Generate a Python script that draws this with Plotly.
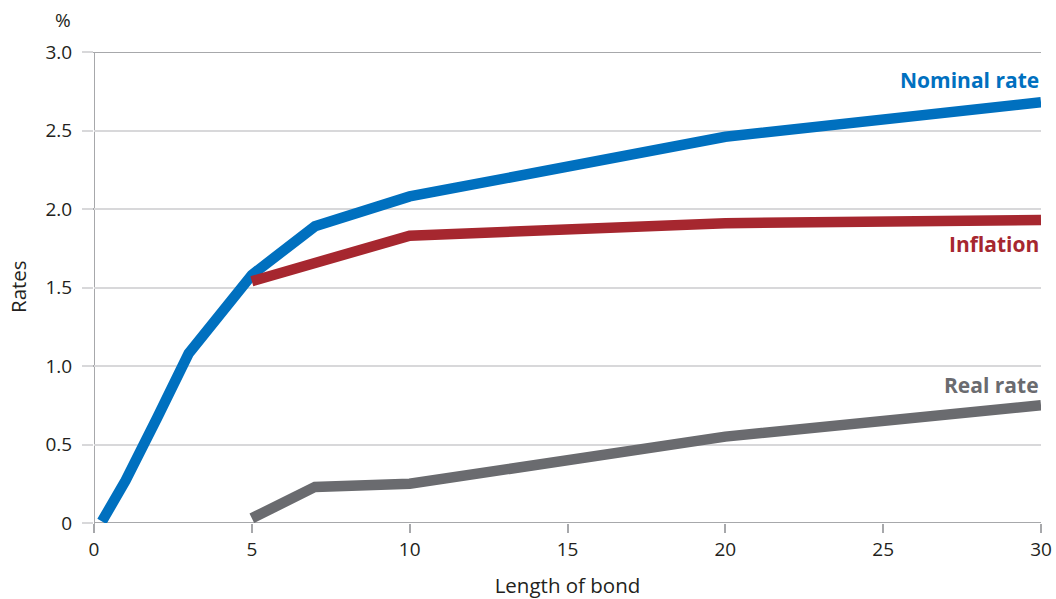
import plotly.graph_objects as go

# Data
nominal_x = [0.25, 0.5, 1, 2, 3, 5, 7, 10, 20, 30]
nominal_y = [0.01, 0.09, 0.27, 0.67, 1.08, 1.58, 1.89, 2.08, 2.46, 2.68]

inflation_x = [5, 7, 10, 20, 30]
inflation_y = [1.54, 1.66, 1.83, 1.91, 1.93]

real_x = [5, 7, 10, 20, 30]
real_y = [0.03, 0.23, 0.25, 0.55, 0.75]

x_ticks = [0, 5, 10, 15, 20, 25, 30]
y_ticks = [0, 0.5, 1.0, 1.5, 2.0, 2.5, 3.0]
y_ticktext = ["0", "0.5", "1.0", "1.5", "2.0", "2.5", "3.0"]
major_grid = [1.0, 2.0, 3.0]

BLUE = "#0070bf"
RED = "#a6272f"
GRAY = "#6a6b6f"
TXT = "#231f20"
FONT = "Open Sans"

PW, PH = 947, 471  # plot area size in px (x 94..1041, y 52..523)

fig = go.Figure()
fig.add_trace(go.Scatter(x=nominal_x, y=nominal_y, mode="lines",
                         line=dict(color=BLUE, width=10.5), name="Nominal rate"))
fig.add_trace(go.Scatter(x=inflation_x, y=inflation_y, mode="lines",
                         line=dict(color=RED, width=10.5), name="Inflation"))
fig.add_trace(go.Scatter(x=real_x, y=real_y, mode="lines",
                         line=dict(color=GRAY, width=10.5), name="Real rate"))

# darker major gridlines at whole numbers
for v in major_grid:
    fig.add_shape(type="line", xref="paper", yref="y", x0=-11 / PW, x1=1,
                  y0=v, y1=v, line=dict(color="#a7a8ab", width=2), layer="below")

fig.update_layout(
    width=1056, height=599,
    margin=dict(l=94, r=15, t=52, b=76, autoexpand=False),
    paper_bgcolor="white", plot_bgcolor="white",
    showlegend=False,
    font=dict(family=FONT, size=19, color=TXT),
    xaxis=dict(range=[0, 30], tickvals=x_ticks, showgrid=False,
               showline=False, zeroline=False,
               ticks="outside", ticklen=9, tickwidth=2, tickcolor="#a7a8ab",
               tickfont=dict(size=19, color=TXT),
               title=dict(text="Length of bond", font=dict(size=20.5, color=TXT), standoff=20)),
    yaxis=dict(range=[0, 3], tickvals=y_ticks, ticktext=y_ticktext,
               showgrid=True, gridcolor="#d8d8da", gridwidth=2,
               showline=False, zeroline=False,
               ticks="outside", ticklen=11, tickwidth=2, tickcolor="#d8d8da",
               ticklabelstandoff=6,
               tickfont=dict(size=19, color=TXT)),
)

# axis lines
fig.add_shape(type="line", xref="paper", yref="y", x0=0, x1=1, y0=0, y1=0,
              line=dict(color="#a7a8ab", width=2), layer="below")
fig.add_shape(type="line", xref="x", yref="paper", x0=0, x1=0, y0=-8 / PH, y1=1,
              line=dict(color="#a7a8ab", width=2), layer="below")

fig.add_annotation(text="<b>Nominal rate</b>", x=1, y=2.82, xref="paper", yref="y",
                   xanchor="right", yanchor="middle", showarrow=False,
                   font=dict(family=FONT, size=21, color=BLUE))
fig.add_annotation(text="<b>Inflation</b>", x=1, y=1.78, xref="paper", yref="y",
                   xanchor="right", yanchor="middle", showarrow=False,
                   font=dict(family=FONT, size=21, color=RED))
fig.add_annotation(text="<b>Real rate</b>", x=1, y=0.88, xref="paper", yref="y",
                   xanchor="right", yanchor="middle", showarrow=False,
                   font=dict(family=FONT, size=21, color=GRAY))
fig.add_annotation(text="%", x=(73 - 94) / PW, y=(523 - 20) / PH,
                   xref="paper", yref="paper", xanchor="right", yanchor="middle",
                   showarrow=False, font=dict(size=19, color=TXT))
fig.add_annotation(text="Rates", x=(18 - 94) / PW, y=(523 - 287) / PH,
                   xref="paper", yref="paper", textangle=-90, showarrow=False,
                   xanchor="center", yanchor="middle",
                   font=dict(size=20.5, color=TXT))

fig.write_html("out.html",
               config={"displayModeBar": False},
               post_script="document.body.style.margin='0';document.body.style.padding='0';")
